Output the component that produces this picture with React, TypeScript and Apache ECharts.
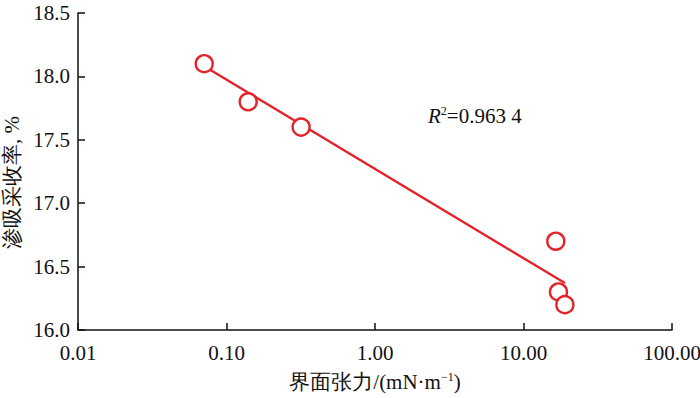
import React, { useEffect, useRef } from "react";
import * as echarts from "echarts";

const tension = [0.0708, 0.14, 0.318, 16.5, 17.2, 19.0];
const recovery = [18.1, 17.8, 17.6, 16.7, 16.3, 16.2];
const fitLine = [
  [0.0708, 18.08],
  [19.0, 16.37],
];
const xTicks = [0.01, 0.1, 1, 10, 100];
const yRange = [16.0, 18.5];
const r2Label = "0.963 4";

const RED = "#e3222a";
const FONT = "Liberation Serif, Times New Roman, serif";
const FS = 21;

export default function App() {
  const ref = useRef<HTMLDivElement>(null);
  useEffect(() => {
    if (!ref.current) return;
    const chart = echarts.init(ref.current, null, { renderer: "svg" });
    chart.setOption({
      animation: false,
      backgroundColor: "#ffffff",
      textStyle: { fontFamily: FONT },
      grid: { left: 78, right: 28, top: 13, bottom: 68, containLabel: false, outerBoundsMode: "none" },
      xAxis: {
        type: "log",
        logBase: 10,
        min: xTicks[0],
        max: xTicks[xTicks.length - 1],
        name: "{a|界面张力/(mN·m}{s|−1}{a|)}",
        nameLocation: "middle",
        nameGap: 41,
        nameTextStyle: {
          fontFamily: FONT,
          rich: {
            a: { fontFamily: FONT, fontSize: FS, color: "#111" },
            s: { fontFamily: FONT, fontSize: 12, color: "#111", verticalAlign: "top", padding: [0, 0, 9, 0] },
          },
        },
        axisLine: { show: true, lineStyle: { color: "#111", width: 1.5 } },
        axisTick: { show: true, inside: true, length: 7, lineStyle: { color: "#111", width: 1.5 } },
        minorTick: { show: false },
        splitLine: { show: false },
        axisLabel: {
          margin: 12,
          fontFamily: FONT,
          fontSize: FS,
          color: "#111",
          formatter: (v: number) => v.toFixed(2),
        },
      },
      yAxis: {
        type: "value",
        min: yRange[0],
        max: yRange[1],
        interval: 0.5,
        name: "渗吸采收率, %",
        nameLocation: "middle",
        nameGap: 55,
        nameTextStyle: { fontFamily: FONT, fontSize: FS, color: "#111", padding: [0, 22, 0, 0] },
        axisLine: { show: true, lineStyle: { color: "#111", width: 1.5 } },
        axisTick: { show: true, inside: true, length: 7, lineStyle: { color: "#111", width: 1.5 } },
        splitLine: { show: false },
        axisLabel: {
          margin: 8,
          fontFamily: FONT,
          fontSize: FS,
          color: "#111",
          formatter: (v: number) => v.toFixed(1),
        },
      },
      graphic: [
        {
          type: "text",
          left: 428,
          top: 105,
          style: {
            text: "{i|R}{s|2}{n|=" + r2Label + "}",
            fontFamily: FONT,
            rich: {
              i: { fontFamily: FONT, fontSize: FS, fontStyle: "italic", fill: "#111" },
              s: { fontFamily: FONT, fontSize: 12, fill: "#111", verticalAlign: "top", padding: [0, 0, 9, 0] },
              n: { fontFamily: FONT, fontSize: FS, fill: "#111" },
            },
          },
        },
      ],
      series: [
        {
          type: "line",
          data: fitLine,
          symbol: "none",
          lineStyle: { color: RED, width: 2.4 },
          z: 2,
        },
        {
          type: "scatter",
          data: tension.map((t, i) => [t, recovery[i]]),
          symbol: "circle",
          symbolSize: 17,
          itemStyle: { color: "#ffffff", borderColor: RED, borderWidth: 2.4, opacity: 1 },
          z: 3,
        },
      ],
    });
    return () => chart.dispose();
  }, []);
  return <div ref={ref} style={{ width: 700, height: 398, position: "absolute", left: 0, top: 0 }} />;
}
